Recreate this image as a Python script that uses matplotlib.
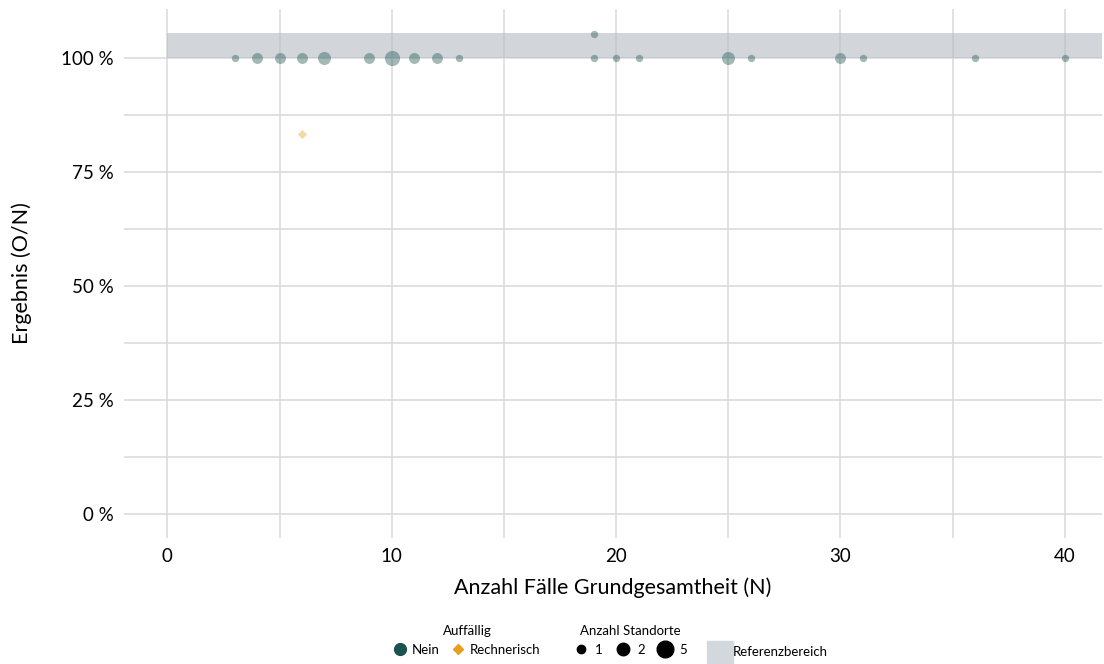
import matplotlib
matplotlib.use("Agg")
import matplotlib.pyplot as plt
from matplotlib.lines import Line2D
from matplotlib.patches import Patch

plt.rcParams['font.family'] = ['Lato', 'DejaVu Sans']

# Standorte: Fälle (N), Ergebnis in %, Anzahl Standorte, Auffällig
n_faelle = [3, 4, 5, 6, 7, 9, 10, 11, 12, 13, 19, 19, 20, 21, 25, 26, 30, 31, 36, 40, 6]
ergebnis = [100, 100, 100, 100, 100, 100, 100, 100, 100, 100, 100, 105.26, 100, 100, 100, 100, 100, 100, 100, 100, 83.33]
anzahl = [1, 2, 2, 2, 3, 2, 5, 2, 2, 1, 1, 1, 1, 1, 3, 1, 2, 1, 1, 1, 1]
auffaellig = ['Nein'] * 20 + ['Rechnerisch']

ref_unten, ref_oben = 100, 105.5
legend_sizes = [1, 2, 5]

farben = {'Nein': '#1b524e', 'Rechnerisch': '#e8a01a'}
marker = {'Nein': 'o', 'Rechnerisch': 'D'}


def groesse(k):
    return {1: 28, 2: 62, 3: 88, 4: 105, 5: 120}[k]


fig = plt.figure(figsize=(11.04, 6.64), dpi=100)
ax = fig.add_axes([0.112, 0.19, 0.886, 0.797])

ax.set_xlim(-1.95, 41.65)
ax.set_ylim(-5.3, 110.8)

ax.set_xticks([0, 10, 20, 30, 40])
ax.set_xticks([5, 15, 25, 35], minor=True)
ax.set_yticks([0, 25, 50, 75, 100])
ax.set_yticklabels(['0 %', '25 %', '50 %', '75 %', '100 %'])
ax.set_yticks([12.5, 37.5, 62.5, 87.5], minor=True)
ax.grid(True, which='both', color='#d9d9d9', linewidth=1.1)
ax.set_axisbelow(True)
for s in ax.spines.values():
    s.set_visible(False)
ax.tick_params(which='both', length=0, labelsize=13.5, colors='black', pad=7)

ax.axhspan(ref_unten, ref_oben, xmin=(0 + 1.95) / 43.6, xmax=1, color='#b4bcc3', alpha=0.6, lw=0, zorder=2)

for x, y, k, a in zip(n_faelle, ergebnis, anzahl, auffaellig):
    s = groesse(k) if a == 'Nein' else 22
    ax.scatter(x, y, s=s, color=farben[a], marker=marker[a], alpha=0.4, lw=0, zorder=3)

ax.set_xlabel('Anzahl Fälle Grundgesamtheit (N)', fontsize=15.5, labelpad=9)
ax.set_ylabel('Ergebnis (O/N)', fontsize=15.5, labelpad=21)

# Legenden
h1 = [Line2D([], [], marker='o', color=farben['Nein'], ls='', markersize=8.5),
      Line2D([], [], marker='D', color=farben['Rechnerisch'], ls='', markersize=5.5)]
l1 = fig.legend(h1, ['Nein', 'Rechnerisch'], title='Auffällig', loc='center',
                bbox_to_anchor=(0.423, 0.035), ncol=2, frameon=False, fontsize=9.5,
                title_fontsize=9.5, handletextpad=0.4, columnspacing=0.9, handlelength=1)
h2 = [Line2D([], [], marker='o', color='black', ls='', markersize=m)
      for m in [6, 9, 12]]
l2 = fig.legend(h2, [str(k) for k in legend_sizes], title='Anzahl Standorte', loc='center',
                bbox_to_anchor=(0.571, 0.035), ncol=3, frameon=False, fontsize=9.5,
                title_fontsize=9.5, handletextpad=0.6, columnspacing=1.0, handlelength=1)
h3 = [Patch(color='#d3d8dc')]
l3 = fig.legend(h3, ['Referenzbereich'], loc='center', bbox_to_anchor=(0.695, 0.018),
                frameon=False, fontsize=9.5, handlelength=2.0, handleheight=2.1, handletextpad=0.0)

fig.savefig('out.png', dpi=100)
